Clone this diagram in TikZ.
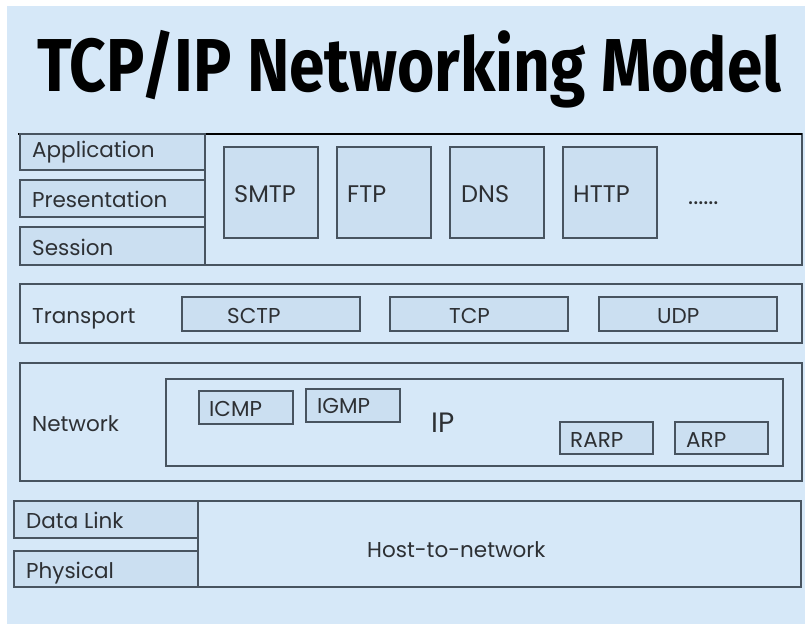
\documentclass[tikz,border=0pt]{standalone}
\usepackage{fontspec}
\setmainfont{Poppins}
\newfontfamily\headfont{Fira Sans}
\definecolor{sky}{RGB}{214,232,248}
\definecolor{cell}{RGB}{203,223,241}
\definecolor{edge}{RGB}{72,84,96}
\definecolor{ink}{RGB}{45,48,52}

% rectangle node given by its corners (in px-like units)
\newcommand\layerbox[6]{%
  \node[#6, minimum width={#4-#2}, minimum height={#5-#3}]
    (#1) at ({(#2+#4)/2},{(#3+#5)/2}) {};}

\begin{document}
\begin{tikzpicture}[x=1pt,y=-1pt,
  frame/.style={draw=edge, line width=1.3pt, fill=sky, inner sep=0pt, outer sep=0pt},
  cellbox/.style={draw=edge, line width=1.3pt, fill=cell, inner sep=0pt, outer sep=0pt},
  lbl/.style={anchor=base west, inner sep=0pt, text=ink, font=\fontsize{21.5}{21.5}\selectfont},
  plbl/.style={lbl, font=\fontsize{24}{24}\selectfont}]

% canvas
\fill[white] (0,0) rectangle (805,624);
\fill[sky] (7,6) rectangle (805,624);
\useasboundingbox (0,0) rectangle (805,624);

% heading
\node[anchor=base west, inner sep=0pt, font=\headfont\bfseries\fontsize{75}{75}\selectfont]
  (title) at (37,91) {\scalebox{0.853}[1]{TCP/IP Networking Model}};

% application / presentation / session
\layerbox{appgrp}{205}{134}{802}{265}{frame}
\draw[black, line width=1.4pt] (18,134) -- (802,134);
\layerbox{appl}{20}{134}{205}{170}{cellbox}
\layerbox{pres}{20}{180}{205}{217}{cellbox}
\layerbox{sess}{20}{227}{205}{265}{cellbox}
\node[lbl] (applt) at (32,157) {Application};
\node[lbl] (prest) at (32,207) {Presentation};
\node[lbl] (sesst) at (32,255) {Session};

\layerbox{smtp}{224}{147}{318}{238}{cellbox}
\layerbox{ftp}{337}{147}{431}{238}{cellbox}
\layerbox{dns}{450}{147}{544}{238}{cellbox}
\layerbox{http}{563}{147}{657}{238}{cellbox}
\node[plbl] (smtpt) at (234,202) {SMTP};
\node[plbl] (ftpt) at (347,202) {FTP};
\node[plbl] (dnst) at (461,202) {DNS};
\node[plbl] (httpt) at (573,202) {HTTP};
\node[plbl] (more) at (688,204) {......};

% transport
\layerbox{trans}{20}{284}{802}{343}{frame}
\layerbox{sctp}{182}{297}{360}{331}{cellbox}
\layerbox{tcp}{390}{297}{568}{331}{cellbox}
\layerbox{udp}{599}{297}{777}{331}{cellbox}
\node[lbl] (transt) at (32,323) {Transport};
\node[lbl] (sctpt) at (227,323) {SCTP};
\node[lbl] (tcpt) at (449,323) {TCP};
\node[lbl] (udpt) at (657,323) {UDP};

% network
\layerbox{net}{20}{363}{802}{481}{frame}
\layerbox{ip}{166}{379}{783}{466}{frame}
\layerbox{icmp}{199}{391}{293}{424}{cellbox}
\layerbox{igmp}{306}{389}{400}{422}{cellbox}
\layerbox{rarp}{560}{422}{653}{454}{cellbox}
\layerbox{arp}{675}{422}{768}{454}{cellbox}
\node[lbl] (nett) at (32,431) {Network};
\node[lbl] (icmpt) at (209,416) {ICMP};
\node[lbl] (igmpt) at (317,413) {IGMP};
\node[lbl, font=\fontsize{28}{28}\selectfont] (ipt) at (431,432) {IP};
\node[lbl] (rarpt) at (570,447) {RARP};
\node[lbl] (arpt) at (686,447) {ARP};

% host-to-network
\layerbox{host}{198}{501}{801}{587}{frame}
\layerbox{dlink}{14}{501}{198}{538}{cellbox}
\layerbox{phys}{14}{551}{198}{587}{cellbox}
\node[lbl] (dlinkt) at (26,528) {Data Link};
\node[lbl] (physt) at (26,578) {Physical};
\node[lbl] (hostt) at (367,557) {Host-to-network};
\end{tikzpicture}
\end{document}
